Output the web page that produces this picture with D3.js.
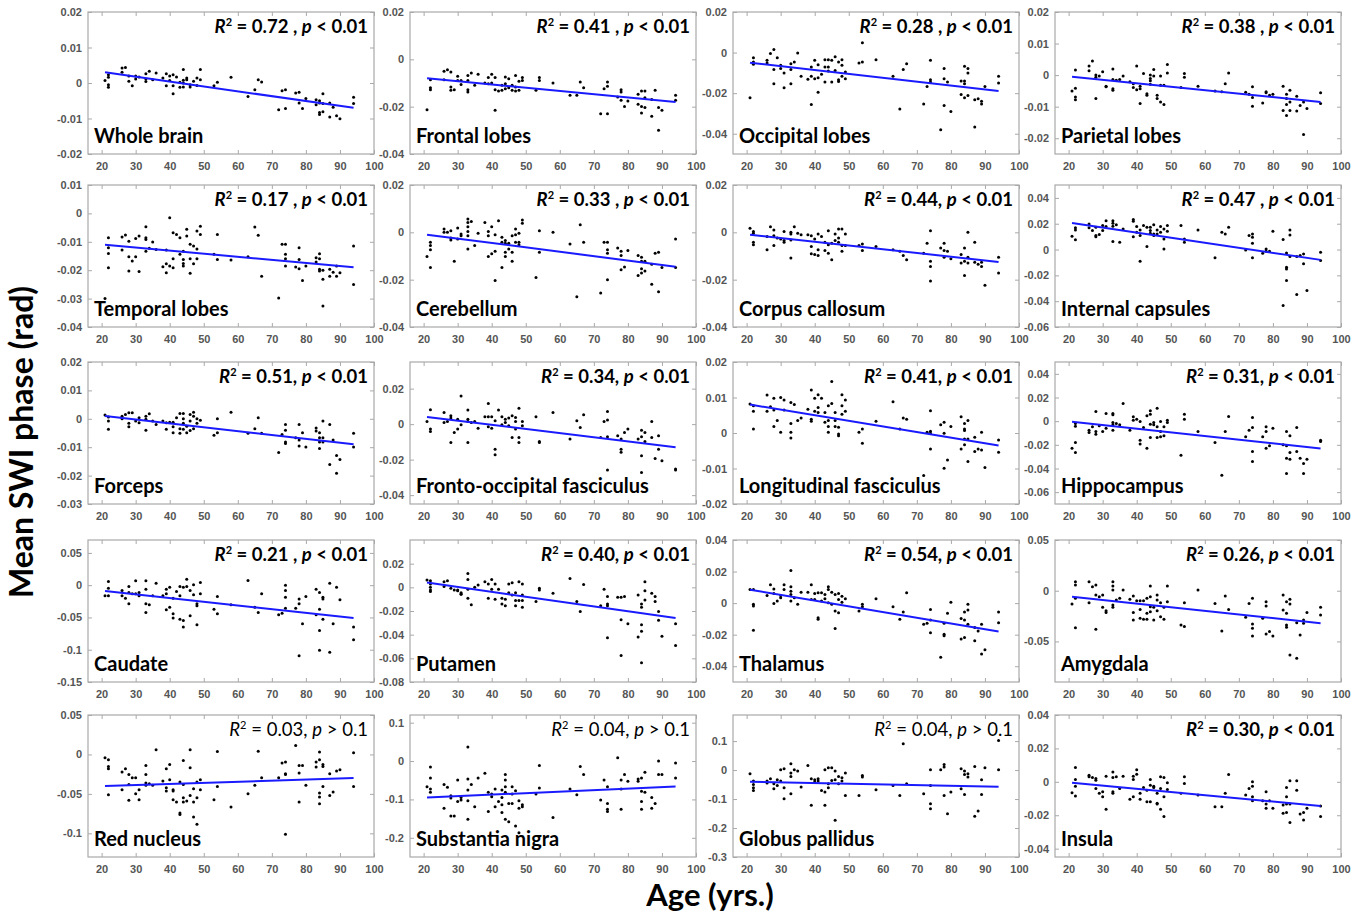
<!DOCTYPE html>
<html>
<head>
<meta charset="utf-8">
<script src="https://cdn.jsdelivr.net/npm/d3@7/dist/d3.min.js"></script>
<style>
  body { margin: 0; background: #fff; }
  svg { display: block; }
</style>
</head>
<body>
<div id="chart"></div>
<script>
// ---- Data ----
// each row: [age, value, value, ...] = all subjects of that age
const wholeBrain = [[21,.0007],[22,.0023,.0016,-.0005,-.0012],[26,.0042,.003],[27,.0044],[28,.002,.0005],[29,-.0008],[30,.002,.0011],[31,.0017],[33,.0026,.0011,.0004],[34,.0033],[35,.0009],[36,.0028],[38,.0014],[39,.0026,-.0008],[40,.002,.0007],[41,.0023,-.0008,-.003],[42,.0017],[43,.0002,-.0012],[44,.0038,.0008,0,-.0011],[45,.0014,.0009],[46,-.0005,-.0011],[47,.0005],[48,.0014,-.0007],[49,.0038,.0009],[53,-.0008],[54,.0002],[58,.0016],[63,-.0038],[65,-.0019],[66,.0009],[67,.0003],[72,-.0075],[73,-.0022],[74,-.0019,-.0072],[77,-.0028],[78,-.0026,-.0056],[79,-.0072],[80,-.0044],[83,-.0047,-.0061],[84,-.005,-.0056,-.0083,-.0089],[85,-.003,-.0058,-.0081],[87,-.0056,-.0096],[88,-.0068],[89,-.0092],[90,-.0101],[94,-.004,-.0058]]
const frontalLobes = [[21,-.0213],[22,-.0086,-.012,-.0128],[26,-.005,-.0086],[27,-.0044],[28,-.0054,-.0117,-.0131],[29,-.0128],[30,-.0072,-.0089],[31,-.0089,-.0106],[33,-.0068,-.0089,-.0128,-.0138],[34,-.0058],[35,-.011],[36,-.0063],[38,-.01],[39,-.0077,-.0103],[40,-.0063,-.01],[41,-.0077,-.0128,-.0215],[42,-.0134],[43,-.011,-.0131],[44,-.0075,-.0103,-.0124],[45,-.0082,-.012],[46,-.011,-.0131],[47,-.0068,-.0117,-.0134],[48,-.0093,-.0131],[49,-.0077,-.0089],[53,-.0131],[54,-.0077,-.0089],[58,-.01],[63,-.0152],[65,-.0152],[66,-.0096],[67,-.012],[72,-.023],[73,-.0124],[74,-.0096,-.0114,-.023],[77,-.0159],[78,-.0128,-.0138,-.0173],[79,-.0199],[80,-.0176],[83,-.0148,-.019],[84,-.0134,-.0199,-.0227],[85,-.0134,-.0162,-.0204],[87,-.017,-.0241],[88,-.0131],[89,-.0204,-.03],[90,-.0215],[94,-.0152,-.0173]]
const occipitalLobes = [[21,-.0223],[22,-.0025,-.0046,-.0058],[26,-.0038,-.0051],[27,-.0005],[28,.0015,-.0083,-.0154],[29,-.0025],[30,-.0063,-.0079],[31,-.0101,-.0174],[33,-.0055,-.0084,-.0154],[34,-.0046],[35,-.0002],[36,-.0117],[38,-.0132],[39,-.0071,-.0117,-.0256],[40,-.0038,-.0129],[41,-.006,-.0124,-.0195],[42,-.0107],[43,-.0035,-.0071,-.0145],[44,-.0035,-.0071,-.0091],[45,-.0038,-.0145],[46,-.0021,-.0088],[47,-.0046,-.0134,-.0142],[48,-.0035,-.0063,-.0117],[49,-.0096,-.0129],[53,-.0051],[54,.0048,-.0046],[58,-.0035],[63,-.0117],[65,-.0278],[66,-.0084],[67,-.0055],[72,-.0253],[73,-.0167],[74,-.0038,-.0134,-.0145],[77,-.038],[78,-.0079,-.0129,-.0261],[79,-.0145],[80,-.0291],[83,-.014,-.0207],[84,-.0068,-.014,-.0154,-.0223],[85,-.0079,-.0101,-.0212],[87,-.0233,-.0367],[88,-.0228],[89,-.024,-.0253],[90,-.0167],[94,-.0117,-.015]]
const parietalLobes = [[21,-.005],[22,.0016,-.0042,-.0069,-.0078],[26,.0029,.0014],[27,.0045],[28,0,-.0007,-.0074],[29,-.0003],[30,.0011],[31,-.0035,-.0037],[33,.0019,-.0014,-.0043,-.0048],[34,-.0016],[35,-.0014],[36,-.0003],[38,-.0021],[39,-.0027,-.0039],[40,.0029,-.0046],[41,-.0035,-.0043,-.009],[42,.0005],[43,-.0059,-.0064],[44,0,-.0011,-.0018,-.0029],[45,.0018,-.0003],[46,-.0064,-.0074],[47,-.0003,-.0032,-.0085],[48,-.0032,-.0093],[49,.0034,.0007],[53,-.0039],[54,.0005,-.0007],[58,-.0035],[63,-.005],[65,-.0053],[66,-.0027],[67,.0007],[72,-.0054],[73,-.0061],[74,-.0037,-.0071,-.0099],[77,-.0088],[78,-.0053,-.0056],[79,-.0064],[80,-.0061],[83,-.0035,-.0112],[84,-.0061,-.0074,-.0093,-.0128],[85,-.0048,-.0085,-.0112],[87,-.0067,-.0114],[88,-.0096],[89,-.0085,-.0188],[90,-.0106],[94,-.0056,-.009]]
const temporalLobes = [[21,-.03],[22,-.0086,-.0121,-.0141,-.0191],[26,-.0083,-.0129],[27,-.0076],[28,-.0098,-.0153,-.0203],[29,-.0168],[30,-.0088,-.0153],[31,-.008,-.0205],[33,-.0047,-.0086,-.0092,-.0133],[34,-.0123],[35,-.0101],[36,-.0127],[38,-.0188],[39,-.0129,-.0177,-.0209],[40,-.0015,-.0185],[41,-.0068,-.016,-.0191],[42,-.0074],[43,-.0086,-.0144],[44,-.0133,-.0162,-.0176,-.0185],[45,-.0056,-.008],[46,-.0109,-.016,-.0211],[47,-.0115,-.0177],[48,-.0062,-.0125,-.016],[49,-.0045,-.0074],[53,-.0144],[54,-.0074,-.0162],[58,-.0164],[63,-.0153],[65,-.0048],[66,-.0077],[67,-.0221],[72,-.0298],[73,-.0109],[74,-.0109,-.0144,-.016,-.0185],[77,-.0189],[78,-.0121,-.0162,-.0195],[79,-.0236],[80,-.0185],[83,-.0156,-.0171],[84,-.0142,-.016,-.0197,-.0203],[85,-.02,-.0232,-.0326],[87,-.0197,-.0221],[88,-.0207],[89,-.0185,-.0221],[90,-.0209],[94,-.0115,-.025]]
const cerebellum = [[21,-.0102],[22,-.0042,-.0056,-.0074,-.0149],[26,.0014,0],[27,0],[28,.0007,-.0024,-.0032],[29,-.0122],[30,.0018,-.0028],[31,-.0007,-.0014],[33,.0056,.0042,.0024,.0004,-.0014,-.007],[34,.0046],[35,-.0056],[36,-.0004],[38,.0042],[39,.0004,-.0014,-.0102],[40,.0024,-.0091],[41,-.001,-.008,-.0203],[42,.0049],[43,-.0021,-.0042,-.0149],[44,-.0035,-.0046,-.0084,-.0102],[45,-.0046,-.007],[46,-.0014,-.0084,-.0122],[47,.0014,-.001,-.0042],[48,-.0004,-.0042,-.0052],[49,.0052,.0038],[53,-.0191],[54,.0007,-.0084],[58,0],[63,-.0049],[65,-.0272],[66,.0032],[67,-.0042],[72,-.0256],[73,-.0042],[74,-.0042,-.0074,-.0088,-.02],[77,-.0066],[78,-.008,-.0098,-.0158],[79,-.0147],[80,-.0077],[83,-.0098,-.0182],[84,-.0105,-.0122,-.0154,-.0172],[85,-.0122,-.0163],[87,-.0135,-.0219],[88,-.0088],[89,-.0084,-.0251],[90,-.0149],[94,-.0028,-.0149]]
const corpusCallosum = [[21,.0017],[22,.0004,-.0004,-.0042,-.0052],[26,-.0018,-.0074],[27,.0024],[28,.001,-.0014,-.0056],[29,-.0024],[30,-.0028],[31,-.0035,-.0042,.0004],[33,0,-.0007,-.0032,-.0108],[34,.0024],[35,-.0004],[36,-.001],[38,-.001],[39,-.0014,-.006,-.0091],[40,-.0028,-.0094],[41,-.0007,-.0074,-.0098],[42,-.0018],[43,-.0042,-.0077],[44,.0007,-.0052,-.0088],[45,-.0046,-.0116],[46,-.0007,-.0035],[47,.0014,-.0024,-.0042],[48,.0014,-.0056,-.008],[49,-.0007,-.0056],[53,-.0056],[54,-.0049,-.0077],[58,-.006],[63,-.0074],[65,-.008],[66,-.0098],[67,-.0116],[72,-.0088],[73,-.0046],[74,.0007,-.0122,-.0144,-.0206],[77,-.0066],[78,-.0046,-.0077,-.0105],[79,-.008],[80,-.0112],[83,-.0094,-.013],[84,-.0066,-.0122,-.0182],[85,0,-.0105,-.013],[87,-.0042,-.0126],[88,-.0135],[89,-.0126,-.0144],[90,-.0224],[94,-.0105,-.0172]]
const internalCapsules = [[21,.0103],[22,.0168,.0152,.0075],[26,.0198,.0168],[27,.0147],[28,.0173,.0108,.01],[29,.0116],[30,.0186,.0147],[31,.0224,.0178],[33,.0224,.0204,.018,.0062],[34,.0193],[35,.0057],[36,.016],[39,.0232,.0219,.01],[40,.0178,.0134],[41,.0152,.0108,-.009],[42,.0186],[43,.0173,.0023],[44,.0173,.0147,.0126],[45,.0193,.0121,.0108],[46,.0152,.0121],[47,.0178,.0134],[48,.016,.0082,.0005],[49,.0186,.0142],[53,.0186],[54,.0082,.0057],[58,.0152],[63,-.0064],[65,.0134],[66,.0121],[67,.0173],[72,-.0003],[73,.0108],[74,.0121,.0095,.0049,-.0064],[77,-.0028],[78,.0005,-.0013],[79,-.0013],[80,.0142],[83,.0077,-.0433],[84,-.0026,-.0137,-.015,-.024],[85,.0152,.0113,-.0054],[87,-.0054,-.0348],[88,-.0046],[89,-.0034,-.0111],[90,-.0317],[94,-.0021,-.0085]]
const forceps = [[21,.0013],[22,.0006,-.0008,-.0037],[26,.0009,0],[27,.0015],[28,.0021,-.0016,-.0028],[29,.0021],[30,-.0008],[31,.0004,-.0014],[33,.0009,-.0002,-.004],[34,.0018],[35,-.0008],[36,-.002],[38,-.0008],[39,-.0014,-.0037],[40,-.0012],[41,-.0012,-.0028,-.0049],[42,.0004],[43,.0019,-.0035,-.0051],[44,.0019,0,-.0016,-.0037],[45,-.0026,-.0049],[46,.0015,-.0008,-.0041],[47,.0023,.0009,-.0035],[48,0,-.0016],[49,-.0005],[53,-.0058],[54,0,-.0049],[58,.0023],[63,-.0051],[65,-.0035],[66,.0004],[67,-.0051],[72,-.0119],[73,-.0055],[74,-.002,-.004,-.0082,-.0087],[77,-.0067],[78,-.002,-.0075,-.0096],[79,-.0049],[80,-.0099],[83,-.0032,-.0043],[84,-.0049,-.0067,-.0082,-.0105],[85,-.0008,-.0067,-.0082],[87,-.002,-.0161],[88,-.0075],[89,-.0129,-.0192],[90,-.0143],[94,-.0051,-.0099]]
const frontoOccipital = [[21,.0015],[22,.0081,-.0028,-.0041],[26,.0066,.0009],[27,.0015],[28,.0047,.0034,-.0103],[29,-.0047],[30,.0028,-.0028],[31,.0159,-.0004],[33,.0079,.0028,.0015,-.0103],[34,.0009],[35,.0015],[36,-.0023],[38,.0041],[39,.0116,.0041,-.0015],[40,.0041,-.0023],[41,.0019,-.0141,-.0173],[42,.0079],[43,.0041,-.0004],[44,.0028,.0009],[45,.0034,-.0009],[46,.0047,-.0075],[47,.0038,.0015,-.0028],[48,.009,-.0075,-.0103],[49,.0015,-.0009],[53,.0041],[54,-.0098,-.0103],[58,.0066],[63,-.0084],[65,.0019],[66,-.0019],[67,.0053],[72,-.0075],[73,.0015],[74,.0071,.0023,-.0071,-.0259],[77,-.0066],[78,-.0084,-.0141,-.0159],[79,-.0047],[80,-.0028],[83,-.0084],[84,-.0034,-.0071,-.0178,-.0272],[85,-.0047,-.0098],[87,.0015,-.0075],[88,-.0193],[89,-.0066,-.0141],[90,-.0206],[94,-.0253,-.0259]]
const longFasciculus = [[21,.0082],[22,.0077,.0061,.0011],[26,.0107,.0061],[27,.0074],[28,.0098,.0065,.0018],[29,.0035],[30,.01,.0002],[31,.0093,.0065],[33,.0086,.0027,.0002,-.0014],[34,.008],[35,.0035],[36,.0042],[38,.0067],[39,.0121,.0039,.0033],[40,.0098,.0061],[41,.0108,.0072,.0058],[42,.0098],[43,.0058,.003],[44,.0077,.0035,.0018,.0002],[45,.0145,.0083],[46,.0058,.0035,.0018],[47,.0016,-.0003,-.0008],[48,.0108,.0077,.0053],[49,.0093,.0061],[53,.0002],[54,.0011,-.0029],[58,.0033],[63,.0088],[65,.0011],[66,.0042],[67,.0039],[72,-.012],[73,.0002],[74,.0063,.0005,-.0001,-.0045],[77,.0023],[78,.003,-.0001,-.0099],[79,-.0076],[80,.0018],[83,.0046,-.0045],[84,.0027,.0011,.0007,-.0017,-.0033],[85,.0035,-.0017,-.008],[87,-.0012,-.0052],[88,-.0045],[89,.0002,-.0048],[90,-.0097],[94,-.002,-.0054]]
const hippocampus = [[21,-.0228],[22,-.002,-.0042,-.018,-.0265],[26,-.0076,-.0096],[27,-.0048],[28,.0082,-.0087,-.011],[29,-.0039],[30,-.0087],[31,.0065,-.0059],[33,.0065,.0054,-.0011,-.0031,-.0076],[34,-.002],[35,-.0031],[36,.0149],[38,-.0076],[39,.0037,.0008],[40,.0017],[41,-.0003,-.0161,-.0194],[42,-.0054],[43,.0045,-.0228],[44,.0087,.0059,-.0025,-.0138],[45,-.0011,-.0031],[46,.011,-.0048,-.0138],[47,-.0003,-.0087,-.0132],[48,-.0048,-.0124],[49,.0008,-.0011],[53,-.0287],[54,.0059,.0017],[58,-.0087],[63,-.018],[65,-.0456],[66,-.0087],[67,.0039],[72,-.0132],[73,-.0076],[74,.0031,-.0054,-.0256,-.0341],[77,-.0132],[78,-.0048,-.0087,-.0228],[79,-.0208],[80,-.0059],[83,-.02],[84,-.0087,-.0208,-.0313,-.0442],[85,-.0124,-.0265,-.0321],[87,-.0054,-.0256],[88,-.0313],[89,-.0358,-.0442],[90,-.0321],[94,-.0161,-.0172]]
const caudate = [[21,-.0165],[22,.0057,-.0046,-.0165],[26,-.0082,-.0165],[27,-.0201],[28,-.0021,-.0113,-.0289],[29,-.0134],[30,.0067,-.0134],[31,-.0113,-.0165],[33,.0067,-.0062,-.0289,-.0423],[34,-.0304],[35,-.0165],[36,.0031],[38,-.0165],[39,-.0062,-.0134,-.0381],[40,-.0031,-.034],[41,-.0201,-.0443,-.051],[42,-.0098],[43,-.0021,-.0165,-.0526],[44,-.0031,-.0546,-.0649],[45,.0093,-.0021],[46,-.0082,-.0474],[47,.0005,-.015],[48,-.0289,-.032,-.0613],[49,.0041,-.0134],[53,-.0371],[54,-.0175,-.0443],[58,-.0304],[63,.0072],[65,-.034],[66,-.0423],[67,-.0134],[72,-.0459],[73,-.0433],[74,0,-.0082,-.0186,-.0356],[77,-.0356],[78,-.0216,-.0289,-.1093],[79,-.0598],[80,-.0175],[83,-.0062,-.0459],[84,-.0113,-.0371,-.0701,-.101],[85,-.0186,-.0216,-.0526],[87,.0031,-.1041],[88,-.0598],[89,-.0031],[90,-.0227],[94,-.0649,-.0845]]
const putamen = [[21,.0061],[22,.0056,.0028,0,-.0022,-.0036],[26,.0047,.0006],[27,.0056],[28,-.0008],[29,-.0022],[30,-.0028,-.0022],[31,-.0045,-.0059,-.0056],[33,.0117,.0067,-.0017,-.0092],[34,-.0148],[35,0],[36,.002],[38,.0047],[39,.0028,-.0092],[40,.0067,-.0017],[41,.0028,-.01],[42,-.0017],[43,-.0092,-.014],[44,-.01,-.0156],[45,.0028,-.0045],[46,.0039,-.0064],[47,-.0045,-.0112,-.0156],[48,.0047,-.0112],[49,-.0064,-.0112,.0028,-.0168],[53,-.012],[54,-.0008,-.0022],[58,-.005],[63,.0075],[65,-.012],[66,-.0204],[67,.0025],[72,-.0156],[73,-.0017],[74,-.0078,-.014,-.0156,-.0427],[77,-.0084],[78,-.0084,-.0274,-.0575],[79,-.0078],[80,-.0307],[83,-.0064,-.0419],[84,-.014,-.0168,-.0316,-.0372,-.0637],[85,.0047,-.0028,-.0106],[87,-.005],[88,-.0078,-.012],[89,-.0204,-.0279],[90,-.0413],[94,-.0307,-.0492]]
const thalamus = [[21,.0086],[22,.0086,-.0008,-.0019,-.0172],[26,.0048],[27,.0117],[28,.009,.0061,-.0002],[29,.0013],[30,.0048,.0034],[31,.0117,.0086],[33,.0207,.0103,.0075,.0054,.0013],[34,.0034],[35,-.0008],[36,.0069],[38,.0069],[39,.0117,.0023],[40,.0061,.0023],[41,.0065,-.0092,-.0103],[42,.0065,.0013],[43,.0054,.0027],[44,.0103,.0086,.0002],[45,.0069,-.0008],[46,.0054,-.005,-.0161],[47,.0061,.0023,-.0061],[48,.0044,.0006],[49,.0027],[53,-.005],[54,-.0008,-.0023],[58,.0027],[63,-.0023],[65,-.0103],[66,-.0057],[67,.0065],[72,-.0134],[73,-.0128],[74,-.004,-.0107,-.0188],[77,-.0343],[78,-.0128,-.0197,-.0207],[79,-.0065],[80,.0006],[83,-.0098,-.0228],[84,-.0057,-.0107,-.0218],[85,-.0008,-.0044,-.0134],[87,-.0155,-.0239],[88,-.0176],[89,-.0134,-.0322],[90,-.0295],[94,-.0057,-.0124]]
const amygdala = [[21,-.0131],[22,.0089,.0056,-.0075,-.0364],[26,.0089,-.0118],[27,.0039],[28,.0056,-.0043,-.038],[29,-.0059],[30,-.0043,-.0164],[31,-.0197,-.0216],[33,.0089,.0046,.0007,-.0141,-.0164],[34,-.0092],[35,-.0075],[36,.0007],[38,-.0085],[39,-.0052,-.0216,-.0289],[40,-.0098],[41,-.0098,-.0184,-.0272],[42,-.0098,-.0282],[43,-.0075,-.0223,-.0282],[44,.0046,-.0059,-.0157,-.0207],[45,-.0164,-.0289],[46,-.0043,-.0092,-.0197],[47,-.0118,-.0256],[48,-.0164,-.0282],[49,.0046,-.0108],[53,-.0338],[54,-.0118,-.0354],[58,.0007],[63,-.0125],[65,-.0397],[66,-.0052],[67,-.0184],[72,-.0262],[73,-.0125],[74,-.0075,-.0328,-.0371,-.0446],[77,-.0272],[78,-.0108,-.0151,-.0426],[79,-.0403],[80,-.0446],[83,-.0043,-.019],[84,-.0108,-.0223,-.0338,-.0361],[85,-.0085,-.0131,-.0633],[87,-.0315,-.0666],[88,-.0436],[89,-.0289,-.0321],[90,-.0216],[94,-.0164,-.0239]]
const redNucleus = [[21,-.0042],[22,-.0068,-.0152,-.0181,-.0511],[26,-.0224,-.0447],[27,-.0181],[28,-.0253,-.038,-.0582],[29,-.0295],[30,-.0295,-.0498],[31,-.0447,-.0574],[33,-.0139,-.0253,-.0363,-.0392],[34,-.0371],[35,-.0392],[36,.0059],[38,-.0338],[39,-.0181,-.0422,-.0464],[40,-.0127,-.0321],[41,-.0447,-.0464,-.0574],[42,-.0603],[43,-.035,-.0743,-.076],[44,-.0076,-.038,-.0549,-.0603],[45,-.0591],[46,.0059,-.0169,-.0519],[47,-.0435,-.0603,-.0793],[48,-.035,-.0549,-.0886],[49,-.0321,-.0447],[53,-.0574],[54,.0038,-.0405],[58,-.0667],[63,-.0498],[65,-.0392],[66,.0042],[67,-.0295],[72,-.0295],[73,-.011],[74,-.0097,-.0245,-.0253,-.1013],[77,.0114],[78,-.0139,-.0236,-.0603],[79,-.0139],[80,-.0392],[83,-.0097,-.016],[84,.003,-.0068,-.0489,-.054,-.0624],[85,-.0127,-.0152,-.0405],[87,-.0245,-.0519],[88,-.0477],[89,-.0211],[90,-.0194],[94,.0021,-.0405]]
const substantiaNigra = [[21,-.0667],[22,-.0158,-.0439,-.0728,-.0816],[26,-.0614,-.1228],[27,-.0684],[28,-.0904,-.0965,-.143],[29,-.143],[30,-.0491,-.1053],[31,-.0947,-.1018],[33,.0368,-.0465,-.0754,-.1035,-.1518],[34,-.0614],[35,-.1193],[36,-.0439],[38,-.0316],[39,-.0816,-.1316],[40,-.086,-.093],[41,-.0728,-.1193],[42,-.1053],[43,-.0754,-.0947,-.114,-.1342],[44,-.0351,-.0491,-.0667,-.0816,-.1518],[45,-.1105,-.1579],[46,-.0667,-.086,-.1105],[47,-.0772,-.1693],[48,-.1035,-.1228,-.1868],[49,-.114,-.1193],[53,-.086],[54,-.0114,-.0702],[58,-.1474],[63,-.0728],[65,-.0877],[66,-.014],[67,-.0351],[72,-.1018],[73,-.0491],[74,-.0667,-.1105,-.1254,-.1316],[77,.0088],[78,-.0491,-.0728,-.1254],[79,-.0351],[80,-.0526],[83,-.0465,-.0526],[84,-.0439,-.0789,-.1053,-.1254],[85,-.0289,-.0816],[87,-.0947,-.1228],[88,-.1105],[89,0,-.0351],[90,-.0351],[94,-.0053,-.0439]]
const globusPallidus = [[21,-.0126],[22,-.0379,-.0494,-.0609,-.0701],[26,-.0379,-.0448],[27,-.0299],[28,-.0644,-.0471],[29,-.0333,-.0529],[30,.0011,-.0379],[31,.0046,-.0989,-.0609],[33,.0218,-.0103,-.0218,-.0816],[34,.0011],[35,-.0034],[36,-.0586],[38,.0161],[39,-.0299,-.1218],[40,-.0333,-.0414],[41,-.0299,-.0379],[42,-.0701],[43,.0011,-.0759,-.1218],[44,.008,-.0471,-.0609],[45,.008,-.0356],[46,-.0034,-.0333,-.1736],[47,-.0218,-.0471],[48,-.0264,-.0379],[49,-.0103,-.0874],[53,-.0874],[54,-.0184,-.0241],[58,-.0678],[63,-.0529],[65,-.0874],[66,.0908],[67,-.0471],[72,-.0816],[74,.0011,-.0529,-.1161,-.1333],[77,.0011],[78,.0195,.0103,-.0874],[79,-.1506],[80,-.0759],[83,.0046,-.0644],[84,-.0034,-.0149,-.0839],[85,-.0126,-.0241],[87,.0126,-.1598],[88,-.1414],[89,-.0333,-.0839],[90,.008],[94,.1023,.0011]]
const insula = [[21,-.0065],[22,.0085,.0014,-.0026,-.0085],[26,.004,.003],[27,.0026],[28,.002,.001,-.004],[29,-.0069],[30,-.0059,-.0089],[31,.0034,-.0164],[33,.0059,.0026,-.0059,-.0069],[34,.003],[35,-.004],[36,.0034],[38,-.0105],[39,.0034,.0014,-.0089],[40,.0073,.0046],[41,-.0069,-.0105],[42,-.0034],[43,-.005,-.0119],[44,.0014,-.002,-.0119],[45,-.0026,-.0034],[46,-.0069,-.0129,-.0133],[47,.003,-.004,-.0164],[48,.0026,-.0089,-.0208],[49,-.0006,-.0046],[53,-.0069],[54,.003,-.001],[58,-.0079],[63,-.0149],[65,-.0149],[66,-.0069],[67,.0044],[72,-.0079],[73,-.004],[74,0,-.0026,-.0089,-.0113],[77,-.0113],[78,-.0059,-.0133,-.0158],[79,-.0113],[80,-.0158],[83,-.0139,-.0188],[84,-.0034,-.0089,-.0133,-.0184],[85,.0006,-.0133,-.0244],[87,.0006,-.005],[88,-.0192],[89,-.0184,-.0228],[90,-.0158],[94,-.0145,-.0208]]

const panelData = [wholeBrain, frontalLobes, occipitalLobes, parietalLobes,
  temporalLobes, cerebellum, corpusCallosum, internalCapsules,
  forceps, frontoOccipital, longFasciculus, hippocampus,
  caudate, putamen, thalamus, amygdala,
  redNucleus, substantiaNigra, globusPallidus, insula]

const regions = ['Whole brain','Frontal lobes','Occipital lobes','Parietal lobes',
  'Temporal lobes','Cerebellum','Corpus callosum','Internal capsules',
  'Forceps','Fronto-occipital fasciculus','Longitudinal fasciculus','Hippocampus',
  'Caudate','Putamen','Thalamus','Amygdala',
  'Red nucleus','Substantia nigra','Globus pallidus','Insula']
const r2Values = ['0.72','0.41','0.28','0.38','0.17','0.33','0.44','0.47','0.51','0.34','0.41','0.31','0.21','0.40','0.54','0.26','0.03','0.04','0.04','0.30']
const r2Sep = [' , ',' , ',' , ',' , ',' , ',' , ',', ',' , ',', ',', ',', ',', ',' , ',', ',', ',', ',', ',', ',', ',', ']
const pTexts = ['< 0.01','< 0.01','< 0.01','< 0.01','< 0.01','< 0.01','< 0.01','< 0.01','< 0.01','< 0.01','< 0.01','< 0.01','< 0.01','< 0.01','< 0.01','< 0.01','> 0.1','> 0.1','> 0.1','< 0.01']
const significant = [1,1,1,1,1,1,1,1,1,1,1,1,1,1,1,1,0,0,0,1]

const yDomains = [[-0.02,0.02],[-0.04,0.02],[-0.05,0.02],[-0.025,0.02],
  [-0.04,0.01],[-0.04,0.02],[-0.04,0.02],[-0.06,0.05],
  [-0.03,0.02],[-0.045,0.035],[-0.02,0.02],[-0.07,0.05],
  [-0.15,0.07],[-0.08,0.04],[-0.05,0.04],[-0.09,0.05],
  [-0.13,0.05],[-0.25,0.12],[-0.3,0.19],[-0.045,0.04]]
const yTickSets = [[-0.02,-0.01,0,0.01,0.02],[-0.04,-0.02,0,0.02],[-0.04,-0.02,0,0.02],[-0.02,-0.01,0,0.01,0.02],
  [-0.04,-0.03,-0.02,-0.01,0,0.01],[-0.04,-0.02,0,0.02],[-0.04,-0.02,0,0.02],[-0.06,-0.04,-0.02,0,0.02,0.04],
  [-0.03,-0.02,-0.01,0,0.01,0.02],[-0.04,-0.02,0,0.02],[-0.02,-0.01,0,0.01,0.02],[-0.06,-0.04,-0.02,0,0.02,0.04],
  [-0.15,-0.1,-0.05,0,0.05],[-0.08,-0.06,-0.04,-0.02,0,0.02],[-0.04,-0.02,0,0.02,0.04],[-0.05,0,0.05],
  [-0.1,-0.05,0,0.05],[-0.2,-0.1,0,0.1],[-0.3,-0.2,-0.1,0,0.1],[-0.04,-0.02,0,0.02,0.04]]
const xTicks = [20,30,40,50,60,70,80,90,100]

// regression line read at the two end ages
const fitAges = [21, 94]
const fitLines = [[0.003,-0.007],[-0.008,-0.018],[-0.005,-0.019],[-0.0005,-0.0085],
  [-0.011,-0.019],[-0.001,-0.0145],[-0.001,-0.0125],[0.0205,-0.008],
  [0.001,-0.009],[0.004,-0.013],[0.008,-0.0035],[-0.0005,-0.023],
  [-0.009,-0.051],[0.004,-0.026],[0.0085,-0.018],[-0.006,-0.032],
  [-0.040,-0.030],[-0.095,-0.066],[-0.040,-0.058],[-0.0005,-0.0145]]

// ---- Layout ----
const width = 1367, height = 916
const colLeft = [88, 410, 733, 1055]
const rowTop = [12, 185, 362, 540, 715]
const pw = 286, ph = 142
const frameColor = '#a9a9a9'
const tickText = '#555'
const fmt = d => String(Math.round(d * 1000) / 1000)

const svg = d3.select('#chart').append('svg')
  .attr('width', width).attr('height', height)

const x = d3.scaleLinear().domain([16, 100]).range([0, pw])

function styleAxis(g){
  g.select('.domain').remove()
  g.selectAll('line').attr('stroke', frameColor)
  g.selectAll('text')
    .attr('fill', tickText)
    .style('font-family', '"Liberation Sans", Arial, sans-serif')
    .style('font-weight', 'bold')
    .style('font-size', '11px')
}

panelData.forEach((rows, i) => {
  const col = i % 4, row = Math.floor(i / 4)
  const g = svg.append('g').attr('transform', `translate(${colLeft[col]},${rowTop[row]})`)
  const y = d3.scaleLinear().domain(yDomains[i]).range([ph, 0])
  const ticks = yTickSets[i]

  g.append('rect').attr('width', pw).attr('height', ph)
    .attr('fill', '#fff').attr('stroke', frameColor).attr('stroke-width', 1.2)

  g.append('g').attr('transform', `translate(0,${ph})`)
    .call(d3.axisBottom(x).tickValues(xTicks).tickSize(-4).tickPadding(8)).call(styleAxis)
  g.append('g')
    .call(d3.axisTop(x).tickValues(xTicks).tickSize(-4).tickFormat('')).call(styleAxis)
  g.append('g')
    .call(d3.axisLeft(y).tickValues(ticks).tickSize(-4).tickPadding(6).tickFormat(fmt)).call(styleAxis)
  g.append('g').attr('transform', `translate(${pw},0)`)
    .call(d3.axisRight(y).tickValues(ticks).tickSize(-4).tickFormat('')).call(styleAxis)

  const pts = rows.flatMap(r => r.slice(1).map(v => [r[0], v]))
  g.selectAll('circle.pt').data(pts).join('circle')
    .attr('class', 'pt')
    .attr('cx', d => x(d[0]))
    .attr('cy', d => y(d[1]))
    .attr('r', 1.5)
    .attr('fill', '#000')

  const line = d3.line().x(d => x(d[0])).y(d => y(d[1]))
  g.append('path')
    .datum(fitAges.map((a, k) => [a, fitLines[i][k]]))
    .attr('d', line)
    .attr('fill', 'none')
    .attr('stroke', '#1a1aff')
    .attr('stroke-width', 2)

  const stat = g.append('text')
    .attr('x', pw - 6).attr('y', 21)
    .attr('text-anchor', 'end')
    .style('font-family', 'Lato, "Open Sans", sans-serif')
    .style('font-size', '18.5px')
    .style('font-weight', significant[i] ? 'bold' : 'normal')
    .attr('fill', '#000')
  stat.append('tspan').style('font-style', 'italic').text('R')
  stat.append('tspan').attr('dy', -7).style('font-size', '11px').text('2')
  stat.append('tspan').attr('dy', 7).text(' = ' + r2Values[i] + r2Sep[i])
  stat.append('tspan').style('font-style', 'italic').text('p')
  stat.append('tspan').text(' ' + pTexts[i])

  g.append('text')
    .attr('x', 6).attr('y', ph - 11)
    .style('font-family', 'Lato, "Open Sans", sans-serif')
    .style('font-size', '20px')
    .style('font-weight', 'bold')
    .attr('fill', '#000')
    .text(regions[i])
})

svg.append('text')
  .attr('transform', 'translate(33,442) rotate(-90)')
  .attr('text-anchor', 'middle')
  .style('font-family', 'Lato, "Open Sans", sans-serif')
  .style('font-size', '32px')
  .style('font-weight', 'bold')
  .text('Mean SWI phase (rad)')

svg.append('text')
  .attr('x', 710).attr('y', 906)
  .attr('text-anchor', 'middle')
  .style('font-family', 'Lato, "Open Sans", sans-serif')
  .style('font-size', '31px')
  .style('font-weight', 'bold')
  .text('Age (yrs.)')
</script>
</body>
</html>
